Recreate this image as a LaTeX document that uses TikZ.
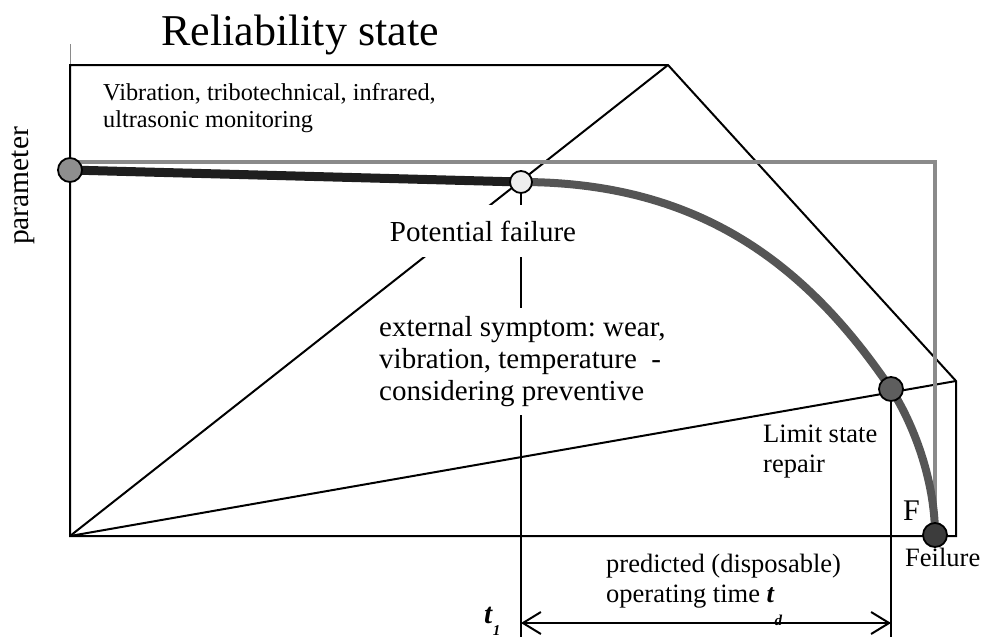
\documentclass[tikz,border=0pt]{standalone}
\usepackage{fontspec}
\setmainfont{Liberation Serif}
\usetikzlibrary{arrows.meta}
\pgfdeclarelayer{bg}
\pgfsetlayers{bg,main}
\definecolor{curvegray}{HTML}{555555}
\definecolor{linegray}{HTML}{8A8A8A}
\definecolor{dotA}{HTML}{8E8E8E}
\definecolor{dotB}{HTML}{EDEDED}
\definecolor{dotC}{HTML}{5E5E5E}
\definecolor{dotD}{HTML}{3C3C3C}
\definecolor{thickblack}{HTML}{1E1E1E}
\frenchspacing
\begin{document}
\begin{tikzpicture}[x=1pt,y=-1pt,
  frame/.style={line width=2pt, black},
  vline/.style={line width=2.3pt, black},
  dot/.style={circle, draw=black, line width=1.8pt, minimum size=24pt, inner sep=0pt},
  lbl/.style={inner sep=0pt, align=left},
  bigtxt/.style={font=\fontsize{29}{32}\selectfont},
  midtxt/.style={font=\fontsize{26.5}{30}\selectfont},
  dimarrow/.style={line width=2pt, {Straight Barb[length=18pt,width=22pt]}-{Straight Barb[length=18pt,width=22pt]}}
]
\useasboundingbox (0,0) rectangle (981,637);
% reference points
\coordinate (O) at (70,536);
\coordinate (TL) at (70,65);
\coordinate (tick) at (70,44);
\coordinate (apex) at (668,65);
\coordinate (RC) at (956,381);
\coordinate (BR) at (956,536);
\coordinate (GS) at (70,162);
\coordinate (b1) at (521,637);
\coordinate (b2) at (891,637);
\coordinate (a1) at (521,623);
\coordinate (a2) at (891,623);
% state dots
\node[dot, fill=dotA] (start) at (70,170) {};
\node[dot, fill=dotB, minimum size=22pt] (pf) at (521,182) {};
\node[dot, fill=dotC] (ls) at (891,389) {};
\node[dot, fill=dotD] (fl) at (935,535) {};
% texts
\node[anchor=base, font=\fontsize{44}{48}\selectfont, inner sep=0pt] (title) at (300,45) {Reliability state};
\node[lbl, anchor=north west, font=\fontsize{24.3}{27}\selectfont] (mon) at (103,83.5) {Vibration, tribotechnical, infrared,\\ultrasonic monitoring};
\node[rotate=90, anchor=base, inner sep=0pt, font=\fontsize{29.5}{32}\selectfont] (par) at (28,186) {parameter};
\node[bigtxt, fill=white, inner xsep=3pt, inner ysep=16pt, anchor=base] (pft) at (483,241) {Potential failure};
\node[bigtxt, lbl, fill=white, inner xsep=3pt, inner ysep=8pt, anchor=north west] (ext) at (376,308) {external symptom: wear,\\vibration, temperature\ \ -\\considering preventive};
\node[lbl, midtxt, anchor=north west] (lst) at (763,425) {Limit state\\repair};
\node[anchor=base west, inner sep=0pt, font=\fontsize{30}{32}\selectfont] (F) at (903,520) {F};
\node[anchor=base west, inner sep=0pt, midtxt] (flt) at (905,566) {Feilure};
\node[lbl, midtxt, anchor=north west] (pred) at (606,553.5) {predicted (disposable)\\operating time \textbf{\textit{t}}\raisebox{-23pt}{\fontsize{15}{15}\selectfont\textbf{\textit{d}}}};
\node[anchor=base west, inner sep=0pt, font=\fontsize{29}{32}\selectfont] (t1) at (484,623) {\textbf{\textit{t}}\raisebox{-12pt}{\fontsize{15}{15}\selectfont\textbf{\textit{1}}}};
\begin{pgfonlayer}{bg}
  \draw[line width=1pt, linegray] (tick) -- (TL);
  \draw[frame] (O) -- (TL) -- (apex) -- (RC) -- (BR) -- cycle;
  \draw[frame] (O) -- (apex);
  \draw[frame] (O) -- (RC);
  \draw[line width=3.5pt, linegray] (GS) -| (fl.center);
  \draw[vline] (pf.center) -- (b1);
  \draw[vline] (ls.center) -- (b2);
  \draw[dimarrow] (a1) -- (a2);
  \draw[line width=9pt, thickblack] (start.center) -- (pf.center);
  \draw[line width=8pt, curvegray] (pf.center) .. controls (700,182) and (807,265) .. (ls.center)
       .. controls (913,423) and (935,480) .. (fl.center);
\end{pgfonlayer}
\end{tikzpicture}
\end{document}
